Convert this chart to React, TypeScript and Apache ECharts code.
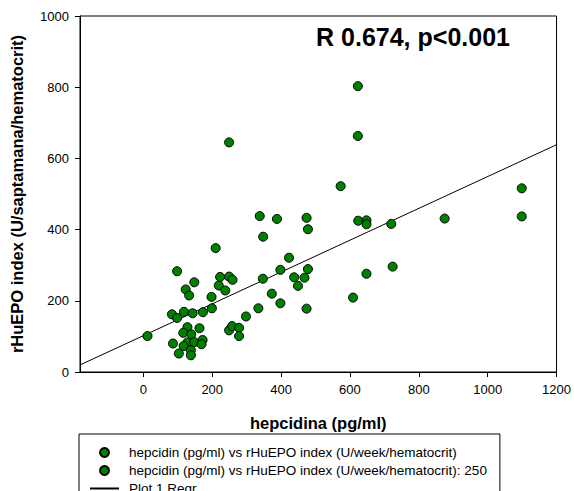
import React, { useEffect, useRef } from 'react';
import * as echarts from 'echarts';

// hepcidin (pg/ml) vs rHuEPO index
const hepcidin = [
  12, 98, 83, 98, 86, 103, 123, 133, 148, 118, 143, 173, 128, 163, 116, 139, 128, 148, 172, 169,
  117, 138, 138, 198, 199, 210, 219, 223, 238, 249, 259, 249, 258, 278, 278, 298,
  334, 338, 348, 347, 373, 388, 398, 398, 423, 438, 449, 468, 474, 478, 478, 474,
  573, 609, 623, 623, 624, 648, 648, 648, 720, 724, 875, 1099, 1099,
];
const rhuepo = [
  101, 283, 162, 152, 80, 52, 232, 215, 252, 169, 165, 168, 126, 123, 110, 106, 83, 84, 90, 78,
  73, 61, 47, 211, 179, 348, 243, 267, 229, 268, 259, 117, 129, 124, 101, 156,
  179, 438, 380, 262, 220, 430, 287, 193, 321, 266, 242, 265, 433, 401, 289, 178,
  522, 209, 803, 663, 425, 426, 415, 276, 416, 296, 431, 516, 437,
];
// second series ": 250"
const hepcidin250 = [249];
const rhuepo250 = [645];
// regression line end points
const regrX = [-184, 1200];
const regrY = [19.8, 638.4];

const xTicks = [0, 200, 400, 600, 800, 1000, 1200];
const yTicks = [0, 200, 400, 600, 800, 1000];

const S1 = 'hepcidin (pg/ml) vs rHuEPO index (U/week/hematocrit)';
const S2 = 'hepcidin (pg/ml) vs rHuEPO index (U/week/hematocrit): 250';
const S3 = 'Plot 1 Regr';
const FONT = '"Liberation Sans", Arial, sans-serif';

export default function App() {
  const ref = useRef<HTMLDivElement>(null);
  useEffect(() => {
    if (!ref.current) return;
    const chart = echarts.init(ref.current, undefined, { renderer: 'svg' });
    const marker = {
      color: '#008000',
      borderColor: '#000',
      borderWidth: 1,
      opacity: 1,
    };
    chart.setOption({
      animation: false,
      textStyle: { fontFamily: FONT },
      grid: { left: 79, top: 16, right: 17, bottom: 119, show: true, borderColor: '#000', borderWidth: 1 },
      xAxis: {
        type: 'value',
        min: -184,
        max: 1200,
        name: 'hepcidina (pg/ml)',
        nameLocation: 'middle',
        nameGap: 42,
        nameTextStyle: { fontFamily: FONT, fontWeight: 'bold', fontSize: 16.5, color: '#000' },
        axisLine: { show: true, onZero: false, lineStyle: { color: '#000', width: 1 } },
        axisTick: { show: true, length: 5, customValues: xTicks, lineStyle: { color: '#000' } },
        axisLabel: {
          customValues: xTicks,
          margin: 11,
          fontSize: 13,
          color: '#000',
          fontFamily: FONT,
          formatter: (v: number) => String(v),
        },
        splitLine: { show: false },
      },
      yAxis: {
        type: 'value',
        min: 0,
        max: 1000,
        interval: 200,
        name: 'rHuEPO index (U/saptamana/hematocrit)',
        nameLocation: 'middle',
        nameGap: 55,
        nameTextStyle: { fontFamily: FONT, fontWeight: 'bold', fontSize: 16.5, color: '#000' },
        axisLine: { show: true, onZero: false, lineStyle: { color: '#000', width: 1 } },
        axisTick: { show: true, length: 5, lineStyle: { color: '#000' } },
        axisLabel: {
          margin: 11,
          fontSize: 13,
          color: '#000',
          fontFamily: FONT,
          customValues: yTicks,
          formatter: (v: number) => String(v),
        },
        splitLine: { show: false },
      },
      legend: {
        left: 79,
        top: 434,
        height: 120,
        orient: 'vertical',
        padding: [11, 13, 6, 10],
        itemGap: 3,
        itemWidth: 29,
        itemHeight: 9,
        borderColor: '#000',
        borderWidth: 1,
        borderRadius: 0,
        selectedMode: false,
        textStyle: { fontFamily: FONT, fontSize: 13.5, color: '#000', lineHeight: 15, padding: [0, 0, 0, 5] },
        data: [
          { name: S1, icon: 'circle' },
          { name: S2, icon: 'circle' },
          { name: S3, itemStyle: { opacity: 0 } },
        ],
      },
      graphic: [
        {
          type: 'text',
          x: 413,
          y: 37,
          style: {
            text: 'R 0.674, p<0.001',
            fontFamily: FONT,
            fontWeight: 'bold',
            fontSize: 25,
            fill: '#000',
            align: 'center',
            verticalAlign: 'middle',
          },
        },
      ],
      series: [
        {
          name: S3,
          type: 'line',
          data: regrX.map((x, i) => [x, regrY[i]]),
          symbol: 'none',
          lineStyle: { color: '#000', width: 1 },
          itemStyle: { color: 'rgba(0,0,0,0)' },
          z: 1,
        },
        {
          name: S1,
          type: 'scatter',
          symbol: 'circle',
          symbolSize: 9,
          itemStyle: marker,
          data: hepcidin.map((x, i) => [x, rhuepo[i]]),
          z: 3,
        },
        {
          name: S2,
          type: 'scatter',
          symbol: 'circle',
          symbolSize: 9,
          itemStyle: marker,
          data: hepcidin250.map((x, i) => [x, rhuepo250[i]]),
          z: 3,
        },
      ],
    });
    return () => chart.dispose();
  }, []);
  return (
    <div
      ref={ref}
      style={{ position: 'fixed', left: 0, top: 0, width: 574, height: 491, background: '#fff' }}
    />
  );
}
